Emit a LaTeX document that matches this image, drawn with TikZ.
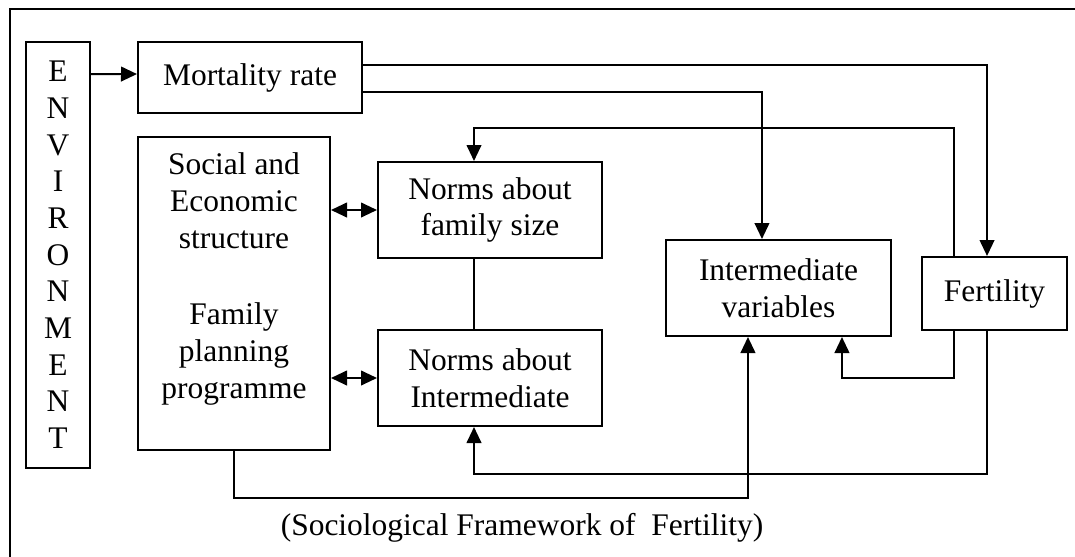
\documentclass[tikz,border=0pt]{standalone}
\usepackage{fontspec}
\setmainfont{Liberation Serif}
\usetikzlibrary{arrows.meta}

\begin{document}
\begin{tikzpicture}[x=0.75pt,y=-0.75pt,line width=1.5pt,
  >={Triangle[length=12pt,width=11pt]},
  box/.style={draw,inner sep=0pt,align=center,font=\fontsize{23.6}{27.6}\selectfont},
  txt/.style={inner sep=0pt,align=center,font=\fontsize{23.6}{27.6}\selectfont}]
%%
\useasboundingbox (0,0) rectangle (1075,557);
\draw (10,570) -- (10,9) -- (1090,9);
%
\node (node_env) at (58,255) [box,minimum width=48pt,minimum height=319.5pt,
  font=\fontsize{23.6}{27.5}\selectfont] {E\\N\\V\\I\\R\\O\\N\\M\\E\\N\\T};
  \node (node_mort) at (250,77.5) [box,minimum width=168pt,minimum height=53.25pt] {Mortality rate};
  \node (node_soc) at (234,293.5) [box,minimum width=144pt,minimum height=234.75pt] {};
  \node (node_soctxt) at (234,279) [txt] {Social and\\Economic\\structure\\[30pt]Family\\planning\\programme};
  \node (node_nfs) at (490,210) [box,minimum width=168pt,minimum height=72pt] {Norms about\\family size};
  \node (node_ni) at (490,378) [box,minimum width=168pt,minimum height=72pt] {Norms about\\Intermediate};
  \node (node_iv) at (778.5,288) [box,minimum width=168.75pt,minimum height=72pt] {Intermediate\\variables};
  \node (node_fert) at (994.5,293.5) [box,minimum width=108.75pt,minimum height=54.75pt] {Fertility};
  \node (node_cap) at (522,528) [txt] {(Sociological Framework of\ \ Fertility)};
%
  \draw [->] (node_env.east |- node_mort.west) ++(0,-3.5) -- ([yshift=2.6pt]node_mort.west);
  \draw [->] ([yshift=9.4pt]node_mort.east) -| ([xshift=-5.6pt]node_fert.north);
  \draw [->] ([yshift=-10.9pt]node_mort.east) -| ([xshift=-12.4pt]node_iv.north);
  \draw [->] ([xshift=-30.4pt]node_fert.north) -- ++(0,-128) -| ([xshift=-12pt]node_nfs.north);
  \draw [->] ([xshift=-30.4pt]node_fert.south) -- ++(0,47) -| ([xshift=47.6pt]node_iv.south);
  \draw [->] ([xshift=-5.6pt]node_fert.south) -- ++(0,143) -| ([xshift=-12pt]node_ni.south);
  \draw [->] (node_soc.south) -- ++(0,47) -| ([xshift=-22.9pt]node_iv.south);
  \draw [<->] (node_soc.east |- node_nfs.west) -- (node_nfs.west);
  \draw [<->] (node_soc.east |- node_ni.west) -- (node_ni.west);
  \draw ([xshift=-12pt]node_nfs.south) -- ([xshift=-12pt]node_ni.north);
%
\end{tikzpicture}
\end{document}
